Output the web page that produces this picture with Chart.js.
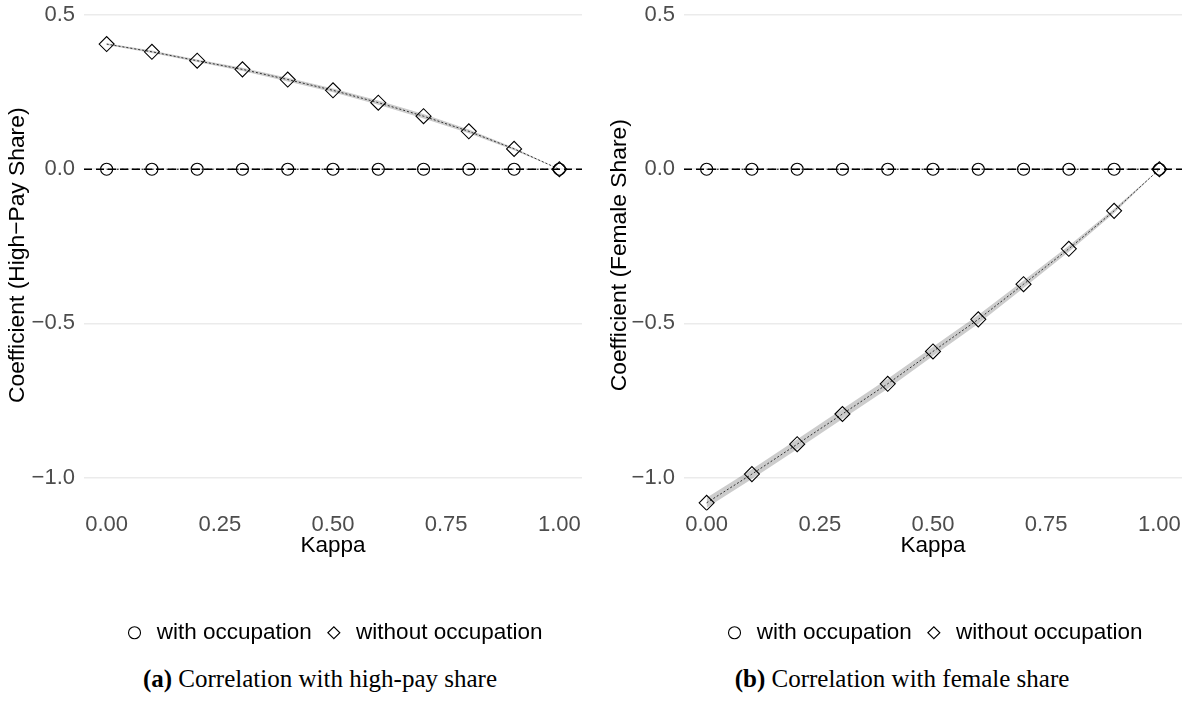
<!DOCTYPE html>
<html>
<head>
<meta charset="utf-8">
<script src="https://cdn.jsdelivr.net/npm/chart.js@4.4.1/dist/chart.umd.min.js"></script>
<style>
  body { margin: 0; background: #fff; width: 1193px; height: 708px; position: relative; overflow: hidden; }
  canvas { position: absolute; top: 0; }
  #chartA { left: 0; }
  #chartB { left: 596px; }
  .caption { position: absolute; top: 665px; font-family: "Liberation Serif", "DejaVu Serif", serif; font-size: 25px;
             white-space: nowrap; transform: translateX(-50%); color: #000; }
</style>
</head>
<body>
<canvas id="chartA" width="596" height="654"></canvas>
<canvas id="chartB" width="597" height="654"></canvas>
<div class="caption" style="left:320px"><b>(a)</b> Correlation with high-pay share</div>
<div class="caption" style="left:902px"><b>(b)</b> Correlation with female share</div>
<script>
// data
const kappa = [0, 0.1, 0.2, 0.3, 0.4, 0.5, 0.6, 0.7, 0.8, 0.9, 1.0];
const seriesNames = ['with occupation', 'without occupation'];

// panel (a): high-pay share
const highPayWith = [0, 0, 0, 0, 0, 0, 0, 0, 0, 0, 0];
const highPayWithout = [0.406, 0.381, 0.352, 0.324, 0.291, 0.256, 0.216, 0.172, 0.123, 0.066, 0];
const highPayBand = [0.003, 0.004, 0.004, 0.005, 0.006, 0.006, 0.007, 0.007, 0.006, 0.004, 0];

// panel (b): female share
const femaleWith = [0, 0, 0, 0, 0, 0, 0, 0, 0, 0, 0];
const femaleWithout = [-1.082, -0.989, -0.892, -0.794, -0.696, -0.591, -0.487, -0.373, -0.258, -0.135, 0];
const femaleBand = [0.016, 0.016, 0.016, 0.016, 0.016, 0.015, 0.014, 0.012, 0.010, 0.007, 0];

const xTicks = [0, 0.25, 0.5, 0.75, 1];
const yTicks = [-1.0, -0.5, 0.0, 0.5];

const FONT = '"Liberation Sans", Arial, sans-serif';

function pts(ys) {
    return kappa.map((k, i) => ({x: k, y: ys[i]}));
}

function fmt(v, d) {
    return v.toFixed(d).replace('-', '\u2212');
}

function makePanel(id, yTitle, withOcc, withoutOcc, band, axisWidth, titlePad, rightPad) {
    const ctx = document.getElementById(id);

    const chart_data = {
        datasets: [{
            label: seriesNames[0],
            data: pts(withOcc),
            borderColor: '#000',
            borderWidth: 1,
            borderDash: [2, 3],
            pointStyle: 'circle',
            pointRadius: 6,
            pointBorderColor: '#000',
            pointBackgroundColor: 'rgba(0,0,0,0)',
            pointBorderWidth: 1.1,
            tension: 0
        }, {
            label: seriesNames[1],
            data: pts(withoutOcc),
            borderColor: '#222',
            borderWidth: 0.9,
            borderDash: [2, 2],
            pointStyle: 'rectRot',
            pointRadius: 7.5,
            pointBorderColor: '#000',
            pointBackgroundColor: 'rgba(0,0,0,0)',
            pointBorderWidth: 1.1,
            tension: 0
        }, {
            label: 'zero',
            data: [{x: -0.05, y: 0}, {x: 1.05, y: 0}],
            borderColor: '#000',
            borderWidth: 1.3,
            borderDash: [8, 4],
            pointRadius: 0
        }, {
            label: 'upper',
            data: pts(withoutOcc.map((v, i) => v + band[i])),
            borderWidth: 0,
            pointRadius: 0,
            backgroundColor: 'rgba(0,0,0,0.2)',
            fill: '+1'
        }, {
            label: 'lower',
            data: pts(withoutOcc.map((v, i) => v - band[i])),
            borderWidth: 0,
            pointRadius: 0,
            fill: false
        }]
    };

    const config = {
        type: 'line',
        data: chart_data,
        options: {
            responsive: false,
            animation: false,
            devicePixelRatio: 1,
            layout: { autoPadding: false, padding: { left: 0, right: rightPad, top: 0, bottom: 0 } },
            scales: {
                x: {
                    type: 'linear',
                    min: -0.05,
                    max: 1.05,
                    afterBuildTicks: s => { s.ticks = xTicks.map(v => ({value: v})); },
                    afterFit: s => { s.height = 100; s.paddingLeft = 0; s.paddingRight = 0; },
                    grid: { display: false, drawTicks: false },
                    border: { display: false },
                    ticks: {
                        padding: 1,
                        color: '#4D4D4D',
                        font: { family: FONT, size: 22 },
                        maxRotation: 0,
                        callback: v => fmt(v, 2)
                    },
                    title: {
                        display: true,
                        text: 'Kappa',
                        color: '#000',
                        font: { family: FONT, size: 22.5 },
                        padding: { top: 0, bottom: 51 }
                    }
                },
                y: {
                    min: -1.107,
                    max: 0.549,
                    afterBuildTicks: s => { s.ticks = yTicks.map(v => ({value: v})); },
                    afterFit: s => { s.width = axisWidth; s.paddingTop = 0; s.paddingBottom = 0; },
                    grid: { color: '#EBEBEB', lineWidth: 1.5, drawTicks: false },
                    border: { display: false },
                    ticks: {
                        padding: 9,
                        color: '#4D4D4D',
                        font: { family: FONT, size: 22 },
                        callback: v => fmt(v, 1)
                    },
                    title: {
                        display: true,
                        text: yTitle,
                        color: '#000',
                        font: { family: FONT, size: 22.8 },
                        padding: { top: titlePad, bottom: 0 }
                    }
                }
            },
            plugins: {
                tooltip: { enabled: false },
                legend: {
                    position: 'bottom',
                    fullSize: false,
                    labels: {
                        usePointStyle: true,
                        boxWidth: 22,
                        boxHeight: 8.5,
                        padding: 11,
                        color: '#000',
                        font: { family: FONT, size: 22.5 },
                        generateLabels: chart => [0, 1].map(i => ({
                            text: chart.data.datasets[i].label,
                            fillStyle: 'rgba(0,0,0,0)',
                            strokeStyle: '#000',
                            lineWidth: 1.1,
                            lineDash: [],
                            pointStyle: chart.data.datasets[i].pointStyle,
                            datasetIndex: i,
                            hidden: false,
                            fontColor: '#000'
                        }))
                    }
                }
            }
        }
    };

    return new Chart(ctx, config);
}

makePanel('chartA', 'Coefficient (High\u2212Pay Share)', highPayWith, highPayWithout, highPayBand, 84, 4, 14);
makePanel('chartB', 'Coefficient (Female Share)', femaleWith, femaleWithout, femaleBand, 88, 10, 11);
</script>
</body>
</html>
